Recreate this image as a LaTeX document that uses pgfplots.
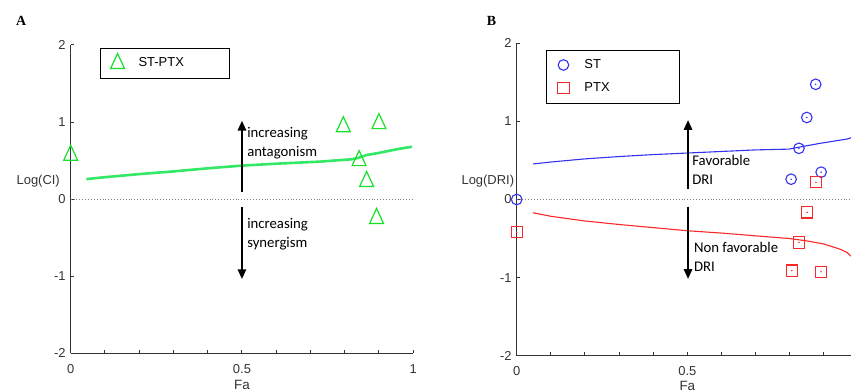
\documentclass[border=0pt]{standalone}
\usepackage{pgfplots}
\pgfplotsset{compat=1.18}
\usepackage{fontspec}
\setmainfont{Liberation Sans}
\newfontfamily\calibri{Carlito}
\newfontfamily\timesfont{Liberation Serif}
\usetikzlibrary{arrows.meta}
\definecolor{tgreen}{RGB}{20,225,40}
\definecolor{lgreen}{RGB}{50,232,100}
\definecolor{cblue}{RGB}{50,50,240}
\definecolor{cred}{RGB}{250,40,40}
\definecolor{axgray}{RGB}{51,51,51}
\pgfplotsset{
  mylegimg/.style={legend image code/.code={%
    \path[draw=none,fill=none] (-17.3bp,0bp) -- (19bp,0bp);
    \begin{pgfinterruptboundingbox}\draw[##1] plot[only marks] coordinates {(0bp,0bp)};\end{pgfinterruptboundingbox}}},
  mystyle/.style={
    scale only axis, anchor=south west,
    xmin=0, xmax=1, ymin=-2, ymax=2,
    axis x line*=bottom, axis y line*=left,
    axis line style={axgray, line width=1.2bp, -},
    every tick/.style={axgray, line width=1bp},
    tick align=inside, major tick length=3.5bp,
    xtick={0,0.1,0.2,0.3,0.4,0.5,0.6,0.7,0.8,0.9,1},
    xticklabels={0,,,,,0.5,,,,,1},
    ytick={-2,-1,0,1,2}, yticklabels={-2,-1,0,1,2},
    ticklabel style={font=\fontsize{13}{15}\selectfont, text=axgray},
    xticklabel style={yshift=-7.5bp},
    yticklabel style={xshift=-1.5bp},
    every axis x label/.style={at={(axis description cs:0.5,0)}, anchor=base, yshift=-36.5bp, inner sep=0pt, font=\fontsize{13.5}{15}\selectfont, text=axgray},
    clip=false,
    legend cell align=left,
    legend style={anchor=north west, draw=black, line width=0.9bp, fill=white,
      inner xsep=0bp, inner ysep=8.1bp, row sep=9.2bp,
      font=\fontsize{13}{15}\selectfont,
      nodes={inner sep=2bp, text height=8bp, text depth=1.8bp}},
  }
}
\begin{document}
\begin{tikzpicture}
\useasboundingbox (0,0) rectangle (851bp,392bp);
\node[anchor=base west, inner sep=0pt, font=\timesfont\bfseries\fontsize{14}{16}\selectfont] at (16bp,366bp) {A};
\node[anchor=base west, inner sep=0pt, font=\timesfont\bfseries\fontsize{14}{16}\selectfont] at (486.7bp,366bp) {B};
% ---------------- Panel A
\begin{axis}[mystyle, at={(70.7bp,38.7bp)}, width=342.5bp, height=308.3bp,
  xlabel={Fa},
  every axis y label/.style={at={(axis description cs:-0.0312,0.5475)}, anchor=base east, inner sep=0pt, font=\fontsize{13}{15}\selectfont, text=axgray},
  ylabel={Log(CI)},
  legend style={at={(axis cs:0.085,1.96)}}]
\addplot[gray, line width=0.9bp, dotted, forget plot] coordinates {(0,0) (1,0)};
\addplot[lgreen, line width=2.6bp, forget plot] coordinates {
 (0.046,0.26) (0.1,0.285) (0.2,0.325) (0.3,0.36) (0.4,0.40) (0.5,0.435)
 (0.6,0.46) (0.728,0.487) (0.82,0.517) (0.84,0.535) (0.864,0.573)
 (0.9,0.60) (0.952,0.647) (0.996,0.68)};
\addplot[tgreen, only marks, mark=triangle, mark size=8bp, mark options={line width=1.2bp, yscale=1.25}, mylegimg] coordinates {
 (0,0.57) (0.796,0.94) (0.90,0.98) (0.842,0.50) (0.864,0.23) (0.893,-0.25)};
\addlegendentry{\makebox[88.7bp][l]{ST-PTX}}
\draw[-{Triangle[width=8bp,length=10bp]}, line width=2.6bp, black] (axis cs:0.5,0.09) -- (axis cs:0.5,1.02);
\draw[-{Triangle[width=8bp,length=10bp]}, line width=2.6bp, black] (axis cs:0.5,-0.105) -- (axis cs:0.5,-1.04);
\node[anchor=base west, inner sep=0pt, font=\calibri\fontsize{14.8}{19}\selectfont] at (axis cs:0.515,0.796) {increasing};
\node[anchor=base west, inner sep=0pt, font=\calibri\fontsize{14.8}{19}\selectfont] at (axis cs:0.515,0.558) {antagonism};
\node[anchor=base west, inner sep=0pt, font=\calibri\fontsize{14.8}{19}\selectfont] at (axis cs:0.515,-0.38) {increasing};
\node[anchor=base west, inner sep=0pt, font=\calibri\fontsize{14.8}{19}\selectfont] at (axis cs:0.515,-0.625) {synergism};
\end{axis}
% ---------------- Panel B
\begin{axis}[mystyle, at={(516.7bp,36.3bp)}, width=341.3bp, height=312.4bp,
  xlabel={Fa}, xlabel style={yshift=1.8bp},
  every axis y label/.style={at={(axis description cs:-0.007,0.5487)}, anchor=base east, inner sep=0pt, font=\fontsize{13}{15}\selectfont, text=axgray},
  ylabel={Log(DRI)},
  legend style={at={(axis cs:0.085,1.92)}}]
\addplot[gray, line width=0.9bp, dotted, forget plot] coordinates {(0,0) (1,0)};
\addplot[cblue, line width=1.1bp, forget plot] coordinates {
 (0.048,0.455) (0.1,0.48) (0.2,0.52) (0.3,0.55) (0.4,0.575) (0.5,0.595)
 (0.6,0.615) (0.7,0.635) (0.797,0.645) (0.827,0.67) (0.89,0.72) (0.969,0.775) (1.0,0.82)};
\addplot[cred, line width=1.1bp, forget plot] coordinates {
 (0.048,-0.17) (0.1,-0.215) (0.2,-0.275) (0.3,-0.32) (0.4,-0.36) (0.5,-0.40)
 (0.6,-0.43) (0.713,-0.47) (0.8,-0.50) (0.85,-0.53) (0.9,-0.57) (0.95,-0.64) (0.968,-0.68) (1.0,-0.80)};
\addplot[cblue, only marks, mark=o, mark size=5.3bp, mark options={line width=1.1bp}, mylegimg] coordinates {
 (0,0) (0.876,1.475) (0.85,1.05) (0.827,0.655) (0.804,0.26) (0.892,0.35)};
\addlegendentry{\makebox[92.7bp][l]{ST}}
\addplot[cred, only marks, mark=square, mark size=5.6bp, mark options={line width=1.1bp}, mylegimg] coordinates {
 (0,-0.42) (0.877,0.22) (0.851,-0.165) (0.827,-0.55) (0.806,-0.91) (0.892,-0.925)};
\addlegendentry{\makebox[92.7bp][l]{PTX}}
\addplot[cblue, only marks, mark=*, mark size=0.5bp, forget plot] coordinates {
 (0,0) (0.876,1.475) (0.85,1.05) (0.827,0.655) (0.804,0.26) (0.892,0.35)};
\addplot[cred, only marks, mark=*, mark size=0.5bp, forget plot] coordinates {
 (0,-0.42) (0.877,0.22) (0.851,-0.165) (0.827,-0.55) (0.806,-0.91) (0.892,-0.925)};
\draw[-{Triangle[width=8bp,length=10bp]}, line width=2.6bp, black] (axis cs:0.502,0.135) -- (axis cs:0.502,1.02);
\draw[-{Triangle[width=8bp,length=10bp]}, line width=2.6bp, black] (axis cs:0.502,-0.09) -- (axis cs:0.502,-1.02);
\node[anchor=base west, inner sep=0pt, font=\calibri\fontsize{14.8}{19}\selectfont] at (axis cs:0.514,0.43) {Favorable};
\node[anchor=base west, inner sep=0pt, font=\calibri\fontsize{14.8}{19}\selectfont] at (axis cs:0.514,0.188) {DRI};
\node[anchor=base west, inner sep=0pt, font=\calibri\fontsize{14.8}{19}\selectfont] at (axis cs:0.519,-0.673) {Non favorable};
\node[anchor=base west, inner sep=0pt, font=\calibri\fontsize{14.8}{19}\selectfont] at (axis cs:0.519,-0.92) {DRI};
\end{axis}
\end{tikzpicture}
\end{document}
